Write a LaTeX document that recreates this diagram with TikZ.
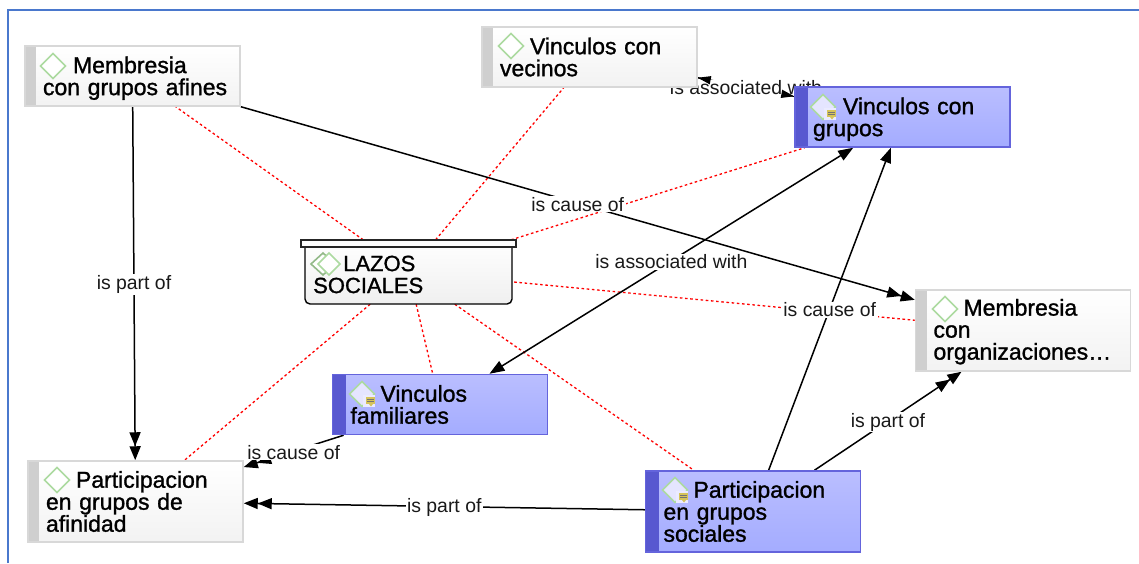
\documentclass[tikz,border=0pt]{standalone}
\usepackage{fontspec}
\setmainfont{Liberation Sans}
\newfontfamily\cmapfont[FakeBold=1.2,WordSpace=0.8]{Liberation Sans}
\usetikzlibrary{arrows.meta,backgrounds}
\definecolor{framecol}{RGB}{74,120,205}
\definecolor{graybar}{RGB}{207,207,207}
\definecolor{grayline}{RGB}{216,216,216}
\definecolor{bluebar}{RGB}{88,88,208}
\definecolor{blueline}{RGB}{100,100,220}
\definecolor{bluetop}{RGB}{186,190,255}
\definecolor{bluebot}{RGB}{164,172,255}
\definecolor{dmdgreen}{RGB}{172,218,160}
\definecolor{notecol}{RGB}{214,196,90}
\tikzset{
  x=1pt,y=-1pt,
  concept/.style={rectangle,line width=1.5pt,minimum width=215pt,text width=179pt,inner xsep=18pt,inner ysep=0pt,align=left,font=\cmapfont\fontsize{23}{22}\selectfont},
  grayconcept/.style={concept,draw=grayline,top color=white,bottom color=black!5,
    path picture={\fill[graybar] (path picture bounding box.north west) rectangle ([xshift=11pt]path picture bounding box.south west);}},
  blueconcept/.style={concept,draw=blueline,top color=bluetop,bottom color=bluebot,
    path picture={\fill[bluebar] (path picture bounding box.north west) rectangle ([xshift=13pt]path picture bounding box.south west);}},
  twoline/.style={minimum height=60pt},
  threeline/.style={minimum height=81pt},
  lazosbox/.style={rectangle,minimum width=211pt,minimum height=64pt,inner sep=0pt},
  lazostext/.style={anchor=north west,inner sep=0pt,align=left,font=\cmapfont\fontsize{22}{22}\selectfont},
  relred/.style={draw=red,line width=1.3pt,dash pattern=on 2.6pt off 2.6pt},
  rel/.style={draw=black,line width=1.5pt},
  dbl/.style={-{Triangle[length=14pt,width=11pt,sep=0pt] Triangle[length=14pt,width=11pt]}},
  sgl/.style={-{Triangle[length=15pt,width=11pt]}},
  rellabel/.style={fill=white,inner xsep=1.5pt,inner ysep=1pt,yshift=-1pt,font=\fontsize{19.4}{20}\selectfont,text=black!90},
  dmd/.style={draw=dmdgreen,line width=1.6pt},
}
\pgfdeclarelayer{bg}
\pgfsetlayers{bg,main}
\newcommand{\dmdicon}[2]{\draw[dmd,fill=white] (#1-12.5,#2) -- (#1,#2-12.5) -- (#1+12.5,#2) -- (#1,#2+12.5) -- cycle;}
\newcommand{\dmdnote}[2]{\draw[dmd,fill=blue!10] (#1-12.5,#2) -- (#1,#2-12.5) -- (#1+12.5,#2) -- (#1,#2+12.5) -- cycle;
  \fill[blue!8] (#1+1,#2+1) rectangle (#1+13,#2+13);
  \fill[notecol] (#1+4,#2+3) rectangle (#1+13,#2+10);
  \fill[notecol] (#1+7,#2+10) -- (#1+11,#2+10) -- (#1+9,#2+12.5) -- cycle;
  \draw[black!55,line width=0.6pt] (#1+5,#2+5) -- (#1+12,#2+5) (#1+5,#2+7.5) -- (#1+12,#2+7.5);}
\newcommand{\strutA}{\rule{0pt}{21pt}}
\newcommand{\strutB}{\rule{0pt}{19pt}}
\begin{document}
\begin{tikzpicture}
\useasboundingbox (0,0) rectangle (1139,563);
\begin{pgfonlayer}{bg}
\fill[white] (0,0) rectangle (1139,563);
\end{pgfonlayer}
\coordinate (fa) at (8,563);
\coordinate (fb) at (8,10);
\coordinate (fc) at (1139,10);
\draw[framecol,line width=1.6pt] (fa) -- (fb) -- (fc);

\node[grayconcept,twoline] (afines) at (132.5,76) {\strutA\hspace*{30pt}Membresia\\\mbox{con grupos afines}};
\node[grayconcept,twoline] (vecinos) at (589.5,57) {\hspace*{30pt}Vinculos con\\vecinos};
\node[blueconcept,twoline] (grupos) at (902.5,117) {\strutA\hspace*{30pt}Vinculos con\\grupos};
\node[grayconcept,threeline] (org) at (1023,330.5) {\strutB\hspace*{30pt}Membresia\\con\\organizaciones…};
\node[blueconcept,twoline] (familiares) at (440,404.5) {\hspace*{30pt}Vinculos\\familiares};
\node[grayconcept,threeline] (afinidad) at (135.5,501.5) {\hspace*{30pt}Participacion\\en grupos de\\afinidad};
\node[blueconcept,threeline] (sociales) at (753,511.5) {\hspace*{30pt}Participacion\\en grupos\\sociales};

% central concept: container
\draw[black,line width=1.4pt,top color=white,bottom color=black!6,rounded corners=5pt]
  (305,240) -- (305,304) -- (512,304) -- (512,240) -- cycle;
\draw[black!85,line width=1.4pt,fill=white] (301,240) rectangle (516,247);
\node[lazosbox] (lazos) at (408.5,272) {};
\node[lazostext] (lazostxt) at (313,255.5) {\hspace*{30pt}LAZOS\\SOCIALES};
\draw[dmd,draw=dmdgreen!85!black,fill=white] (311,264) -- (323,253) -- (335,264) -- (323,275) -- cycle;
\draw[dmd,fill=white] (318,264) -- (329,253) -- (340,264) -- (329,275) -- cycle;

\dmdicon{53}{66}
\dmdicon{511}{46}
\dmdnote{823}{107}
\dmdicon{945}{309}
\dmdnote{362}{394}
\dmdicon{57}{480}
\dmdnote{675}{490}

\begin{pgfonlayer}{bg}
\draw[relred] (lazos) -- (afines);
\draw[relred] (lazos) -- (vecinos);
\draw[relred] (lazos) -- (grupos);
\draw[relred] (lazos) -- (org);
\draw[relred] (lazos) -- (sociales);
\draw[relred] (lazos) -- (familiares);
\draw[relred] (lazos) -- (afinidad);
\draw[rel,dbl] (afines) -- node[rellabel] (l1) {is part of} (afinidad);
\draw[rel,dbl] (afines) -- node[rellabel] (l2) {is cause of} (org);
\draw[rel,dbl] (familiares) -- node[rellabel] (l3) {is cause of} (afinidad);
\draw[rel,dbl] (sociales) -- node[rellabel] (l4) {is part of} (afinidad);
\draw[rel,dbl] (sociales) -- node[rellabel] (l5) {is part of} (org);
\draw[rel,sgl] (sociales) -- node[rellabel] (l6) {is cause of} (grupos);
\draw[rel,{Triangle[length=15pt,width=11pt]}-{Triangle[length=15pt,width=11pt]}] (familiares) -- node[rellabel] (l7) {is associated with} (grupos);
\draw[rel] (vecinos) -- node[rellabel] (l8) {is associated with} (grupos);
\path[draw=none,fill=none,black,line width=1.3pt,tips=true,{Triangle[length=13pt,width=8pt]}-{Triangle[length=13pt,width=8pt]}] (vecinos) -- (grupos);
\end{pgfonlayer}
\end{tikzpicture}
\end{document}
